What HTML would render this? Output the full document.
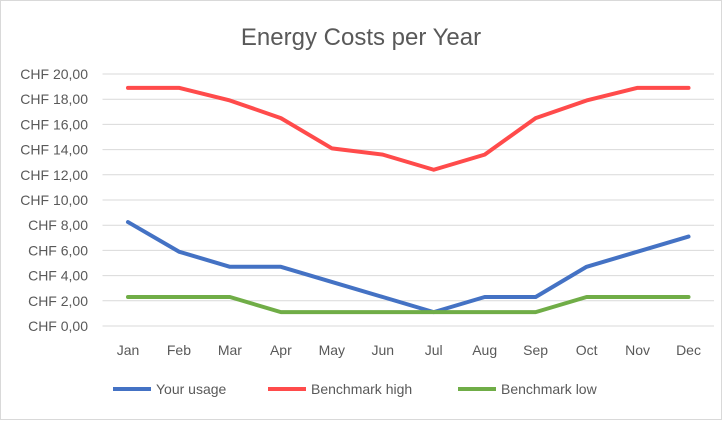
<!DOCTYPE html>
<html><head><meta charset="utf-8">
<style>
html,body{margin:0;padding:0;background:#fff;}
body{width:722px;height:420px;overflow:hidden;font-family:"Liberation Sans",Arial,sans-serif;}
svg text{font-family:"Liberation Sans",Arial,sans-serif;fill:#595959;}
</style></head>
<body>
<svg id="chart" width="722" height="420">
<rect x="0.5" y="0.5" width="721" height="419" fill="#fff" stroke="#d9d9d9"/>
<text x="361" y="45" font-size="24" text-anchor="middle">Energy Costs per Year</text>
<g id="grid"></g><g id="series"></g><g id="labels"></g><g id="legend"></g>
</svg>
<script>
const categories=["Jan","Feb","Mar","Apr","May","Jun","Jul","Aug","Sep","Oct","Nov","Dec"];
const yourUsage=[8.25,5.9,4.7,4.7,3.5,2.3,1.1,2.3,2.3,4.7,5.9,7.1];
const benchHigh=[18.9,18.9,17.9,16.5,14.1,13.6,12.4,13.6,16.5,17.9,18.9,18.9];
const benchLow=[2.3,2.3,2.3,1.1,1.1,1.1,1.1,1.1,1.1,2.3,2.3,2.3];
const yTicks=[0,2,4,6,8,10,12,14,16,18,20];
const seriesNames=["Your usage","Benchmark high","Benchmark low"];
const seriesColors=["#4472c4","#ff4b4b","#70ad47"];

const NS="http://www.w3.org/2000/svg";
const plotLeft=102.5,plotRight=714,plotTop=74,plotBottom=326,yMax=20;
const step=(plotRight-plotLeft)/categories.length;
const xs=i=>plotLeft+step*(i+0.5);
const ys=v=>plotBottom-(v/yMax)*(plotBottom-plotTop);
function mk(tag,attrs,parent,txt){const e=document.createElementNS(NS,tag);for(const k in attrs)e.setAttribute(k,attrs[k]);if(txt!==undefined)e.textContent=txt;document.getElementById(parent).appendChild(e);return e;}

yTicks.forEach(t=>{
  const g=mk("line",{x1:plotLeft,x2:plotRight,y1:ys(t),y2:ys(t),stroke:"#d9d9d9","stroke-width":1},"grid");
  
  
  const l=mk("text",{x:88,y:ys(t)+5,"font-size":14,"text-anchor":"end"},"labels","CHF "+t.toFixed(2).replace(".",","));
  
  
});
categories.forEach((c,i)=>{
  const l=mk("text",{x:xs(i),y:355,"font-size":14,"text-anchor":"middle"},"labels",c);
  
  
});
[yourUsage,benchHigh,benchLow].forEach((s,k)=>{
  const p=mk("polyline",{points:s.map((v,i)=>xs(i)+","+ys(v)).join(" "),fill:"none",stroke:seriesColors[k],"stroke-width":4,"stroke-linejoin":"round","stroke-linecap":"round"},"series");
  
  
});
const legendX=[113,268,458];
seriesNames.forEach((n,k)=>{
  const ln=mk("line",{x1:legendX[k],x2:legendX[k]+38,y1:389,y2:389,stroke:seriesColors[k],"stroke-width":4},"legend");
  
  
  const t=mk("text",{x:legendX[k]+43,y:394,"font-size":14},"legend",n);
  
  
});
</script>
</body></html>
